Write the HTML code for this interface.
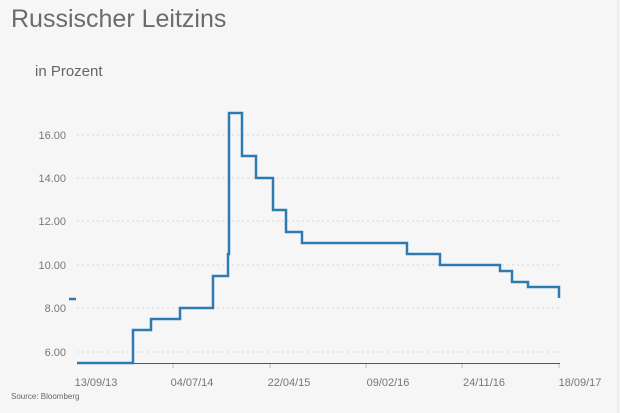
<!DOCTYPE html>
<html><head><meta charset="utf-8"><style>
html,body{margin:0;padding:0;background:#f6f6f6;}
svg{display:block;font-family:"Liberation Sans",sans-serif;}
</style></head><body>
<svg width="620" height="413" viewBox="0 0 620 413">
<rect width="620" height="413" fill="#f6f6f6"/>
<line x1="618" y1="0" x2="618" y2="413" stroke="#e4e4e4"/>
<text x="11" y="27" font-size="25" fill="#6b6b6b">Russischer Leitzins</text>
<text x="35" y="76" font-size="15" fill="#666">in Prozent</text>
<g stroke="#d6d6d6" stroke-dasharray="2,3" stroke-width="1">
<line x1="77" y1="135" x2="560" y2="135"/>
<line x1="77" y1="178" x2="560" y2="178"/>
<line x1="77" y1="221" x2="560" y2="221"/>
<line x1="77" y1="265" x2="560" y2="265"/>
<line x1="77" y1="308" x2="560" y2="308"/>
<line x1="77" y1="352" x2="560" y2="352"/>
</g>
<g font-size="11" fill="#777" text-anchor="end">
<text x="66" y="139">16.00</text>
<text x="66" y="182">14.00</text>
<text x="66" y="225">12.00</text>
<text x="66" y="269">10.00</text>
<text x="66" y="312">8.00</text>
<text x="66" y="356">6.00</text>
</g>
<line x1="77" y1="363.5" x2="560" y2="363.5" stroke="#555" stroke-width="1"/>
<g stroke="#bbb"><line x1="173" y1="364" x2="173" y2="368"/><line x1="270" y1="364" x2="270" y2="368"/><line x1="366" y1="364" x2="366" y2="368"/><line x1="462" y1="364" x2="462" y2="368"/><line x1="559" y1="364" x2="559" y2="368"/></g>
<g font-size="11" fill="#777" text-anchor="middle">
<text x="96" y="386">13/09/13</text>
<text x="192" y="386">04/07/14</text>
<text x="289" y="386">22/04/15</text>
<text x="388" y="386">09/02/16</text>
<text x="484" y="386">24/11/16</text>
<text x="580" y="386">18/09/17</text>
</g>
<text x="11" y="399" font-size="8" fill="#666">Source: Bloomberg</text>
<line x1="69" y1="299" x2="76" y2="299" stroke="#2f7bb0" stroke-width="2.5"/>
<polyline fill="none" stroke="#2f7bb0" stroke-width="2.5" stroke-linejoin="miter"
points="77,363 133,363 133,330 151,330 151,319 180,319 180,308 213,308 213,276 228,276 228,254 229,254 229,113 242,113 242,156 256,156 256,178 273,178 273,210 286,210 286,232 302,232 302,243 407,243 407,254 440,254 440,265 500,265 500,271 512,271 512,282 528,282 528,287 559,287 559,298"/>
</svg>
</body></html>
